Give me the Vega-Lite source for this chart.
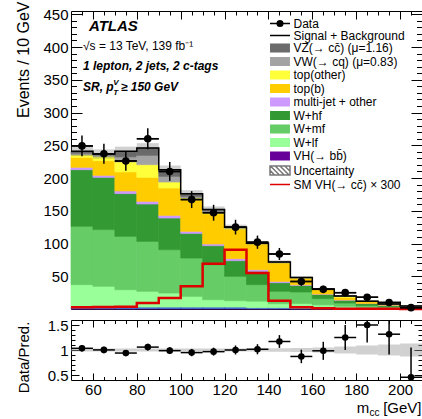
{
 "$schema": "https://vega.github.io/schema/vega-lite/v6.json",
 "padding": {"left": 14, "top": 0, "right": 0, "bottom": 0},
 "spacing": 2,
 "datasets": {
  "procs": [{"p":"vhbb","o":1},{"p":"z","o":2},{"p":"wlf","o":3},{"p":"wmf","o":4},{"p":"whf","o":5},{"p":"mj","o":6},{"p":"topb","o":7},{"p":"topo","o":8},{"p":"vw","o":9},{"p":"vz","o":10}],
  "bars": [
   {"lo":50,"hi":60,"vhbb":0.5,"z":2.0,"wlf":34.7,"wmf":89.1,"whf":86.4,"mj":3.6,"topb":15.3,"topo":4.0,"vw":2.4,"vz":2.7},
   {"lo":60,"hi":70,"vhbb":0.5,"z":2.0,"wlf":32.1,"wmf":86.6,"whf":79.8,"mj":3.1,"topb":22.3,"topo":6.6,"vw":2.1,"vz":1.5},
   {"lo":70,"hi":80,"vhbb":0.5,"z":2.0,"wlf":27.0,"wmf":81.4,"whf":65.3,"mj":4.1,"topb":29.0,"topo":15.3,"vw":7.6,"vz":8.5},
   {"lo":80,"hi":90,"vhbb":0.6,"z":2.4,"wlf":24.0,"wmf":76.3,"whf":57.0,"mj":4.1,"topb":36.6,"topo":19.4,"vw":14.2,"vz":11.2},
   {"lo":90,"hi":100,"vhbb":0.6,"z":2.4,"wlf":21.4,"wmf":66.2,"whf":48.3,"mj":4.1,"topb":41.7,"topo":9.2,"vw":8.6,"vz":10.2},
   {"lo":100,"hi":110,"vhbb":0.6,"z":2.4,"wlf":16.3,"wmf":58.6,"whf":37.6,"mj":3.1,"topb":48.4,"topo":2.5,"vw":2.5,"vz":4.1},
   {"lo":110,"hi":120,"vhbb":0.6,"z":2.4,"wlf":11.2,"wmf":53.5,"whf":29.0,"mj":2.6,"topb":46.1,"topo":2.5,"vw":2.0,"vz":2.1},
   {"lo":120,"hi":130,"vhbb":0.6,"z":2.4,"wlf":9.7,"wmf":37.2,"whf":23.9,"mj":3.1,"topb":45.1,"topo":1.5,"vw":0.8,"vz":0.7},
   {"lo":130,"hi":140,"vhbb":0.5,"z":1.5,"wlf":9.9,"wmf":25.3,"whf":20.3,"mj":2.6,"topb":39.1,"topo":1.0,"vw":0.2,"vz":0.1},
   {"lo":140,"hi":150,"vhbb":0.5,"z":1.5,"wlf":6.1,"wmf":18.9,"whf":13.2,"mj":2.0,"topb":28.0,"topo":1.2,"vw":0.2,"vz":0.2},
   {"lo":150,"hi":160,"vhbb":0.4,"z":1.1,"wlf":7.0,"wmf":17.5,"whf":10.0,"mj":1.0,"topb":10.0,"topo":0.7,"vw":0.3,"vz":0.2},
   {"lo":160,"hi":170,"vhbb":0.3,"z":1.0,"wlf":5.0,"wmf":9.5,"whf":6.5,"mj":0.5,"topb":7.0,"topo":0.5,"vw":0.1,"vz":0.1},
   {"lo":170,"hi":180,"vhbb":0.3,"z":0.8,"wlf":3.0,"wmf":5.0,"whf":4.4,"mj":0.4,"topb":4.0,"topo":1.8,"vw":0.1,"vz":0.2},
   {"lo":180,"hi":190,"vhbb":0.2,"z":0.6,"wlf":1.5,"wmf":3.0,"whf":3.0,"mj":0.3,"topb":2.7,"topo":0.5,"vw":0.1,"vz":0.1},
   {"lo":190,"hi":200,"vhbb":0.1,"z":0.4,"wlf":1.0,"wmf":2.0,"whf":2.2,"mj":0.2,"topb":1.4,"topo":0.2,"vw":0.05,"vz":0.05},
   {"lo":200,"hi":210,"vhbb":0.1,"z":0.3,"wlf":0.6,"wmf":1.0,"whf":1.4,"mj":0.1,"topb":0.7,"topo":0.1,"vw":0.05,"vz":0.05}
  ],
  "tot": [{"x":50,"v":240.7,"s":"sb"},{"x":60,"v":236.6,"s":"sb"},{"x":70,"v":240.7,"s":"sb"},{"x":80,"v":245.8,"s":"sb"},{"x":90,"v":212.7,"s":"sb"},{"x":100,"v":176.1,"s":"sb"},{"x":110,"v":152,"s":"sb"},{"x":120,"v":125,"s":"sb"},{"x":130,"v":100.5,"s":"sb"},{"x":140,"v":71.8,"s":"sb"},{"x":150,"v":48.2,"s":"sb"},{"x":160,"v":30.5,"s":"sb"},{"x":170,"v":20,"s":"sb"},{"x":180,"v":12,"s":"sb"},{"x":190,"v":7.6,"s":"sb"},{"x":200,"v":4.4,"s":"sb"},{"x":210,"v":4.4,"s":"sb"}],
  "sig": [{"x":50,"v":2.5,"s":"sig"},{"x":60,"v":3,"s":"sig"},{"x":70,"v":3.5,"s":"sig"},{"x":80,"v":9,"s":"sig"},{"x":90,"v":16.8,"s":"sig"},{"x":100,"v":34.6,"s":"sig"},{"x":110,"v":69,"s":"sig"},{"x":120,"v":90.6,"s":"sig"},{"x":130,"v":55,"s":"sig"},{"x":140,"v":12.7,"s":"sig"},{"x":150,"v":2.5,"s":"sig"},{"x":160,"v":1,"s":"sig"},{"x":170,"v":0.5,"s":"sig"},{"x":180,"v":0.3,"s":"sig"},{"x":190,"v":0.2,"s":"sig"},{"x":200,"v":0.1,"s":"sig"},{"x":210,"v":0.1,"s":"sig"}],
  "pts": [
   {"c":55,"lo":50,"hi":60,"n":249,"el":233.2,"eh":264.8,"s":"data"},
   {"c":65,"lo":60,"hi":70,"n":237,"el":221.6,"eh":252.4,"s":"data"},
   {"c":75,"lo":70,"hi":80,"n":226,"el":211,"eh":241,"s":"data"},
   {"c":85,"lo":80,"hi":90,"n":260,"el":243.9,"eh":276.1,"s":"data"},
   {"c":95,"lo":90,"hi":100,"n":210,"el":195.5,"eh":224.5,"s":"data"},
   {"c":105,"lo":100,"hi":110,"n":167,"el":154.1,"eh":179.9,"s":"data"},
   {"c":115,"lo":110,"hi":120,"n":147,"el":134.9,"eh":159.1,"s":"data"},
   {"c":125,"lo":120,"hi":130,"n":125,"el":113.8,"eh":136.2,"s":"data"},
   {"c":135,"lo":130,"hi":140,"n":102,"el":91.9,"eh":112.1,"s":"data"},
   {"c":145,"lo":140,"hi":150,"n":84,"el":74.8,"eh":93.2,"s":"data"},
   {"c":155,"lo":150,"hi":160,"n":42,"el":35.5,"eh":48.5,"s":"data"},
   {"c":165,"lo":160,"hi":170,"n":30,"el":24.5,"eh":35.5,"s":"data"},
   {"c":175,"lo":170,"hi":180,"n":25,"el":20,"eh":30,"s":"data"},
   {"c":185,"lo":180,"hi":190,"n":18,"el":13.8,"eh":22.3,"s":"data"},
   {"c":195,"lo":190,"hi":200,"n":10,"el":6.9,"eh":14.3,"s":"data"},
   {"c":205,"lo":200,"hi":210,"n":2,"el":0.7,"eh":4.6,"s":"data"}
  ],
  "unc": [{"lo":50,"hi":60,"a":233.5,"b":247.9},{"lo":60,"hi":70,"a":229.5,"b":243.7},{"lo":70,"hi":80,"a":233.5,"b":247.9},{"lo":80,"hi":90,"a":238.4,"b":253.2},{"lo":90,"hi":100,"a":206.3,"b":219.1},{"lo":100,"hi":110,"a":170.8,"b":181.4},{"lo":110,"hi":120,"a":147.4,"b":156.6},{"lo":120,"hi":130,"a":121.3,"b":128.8},{"lo":130,"hi":140,"a":97.5,"b":103.5},{"lo":140,"hi":150,"a":69.3,"b":74.3},{"lo":150,"hi":160,"a":46.3,"b":50.1},{"lo":160,"hi":170,"a":29,"b":32},{"lo":170,"hi":180,"a":18.6,"b":21.4},{"lo":180,"hi":190,"a":10.9,"b":13.1},{"lo":190,"hi":200,"a":6.8,"b":8.4},{"lo":200,"hi":210,"a":3.8,"b":5.0}],
  "ratio": [
   {"c":55,"lo":50,"hi":60,"r":1.034,"el":0.969,"eh":1.100},
   {"c":65,"lo":60,"hi":70,"r":1.002,"el":0.937,"eh":1.067},
   {"c":75,"lo":70,"hi":80,"r":0.939,"el":0.877,"eh":1.001},
   {"c":85,"lo":80,"hi":90,"r":1.058,"el":0.992,"eh":1.123},
   {"c":95,"lo":90,"hi":100,"r":0.987,"el":0.919,"eh":1.056},
   {"c":105,"lo":100,"hi":110,"r":0.948,"el":0.875,"eh":1.022},
   {"c":115,"lo":110,"hi":120,"r":0.967,"el":0.888,"eh":1.047},
   {"c":125,"lo":120,"hi":130,"r":1.0,"el":0.910,"eh":1.090},
   {"c":135,"lo":130,"hi":140,"r":1.015,"el":0.914,"eh":1.116},
   {"c":145,"lo":140,"hi":150,"r":1.170,"el":1.042,"eh":1.298},
   {"c":155,"lo":150,"hi":160,"r":0.871,"el":0.737,"eh":1.006},
   {"c":165,"lo":160,"hi":170,"r":0.984,"el":0.803,"eh":1.164},
   {"c":175,"lo":170,"hi":180,"r":1.25,"el":1.0,"eh":1.5},
   {"c":185,"lo":180,"hi":190,"r":1.5,"el":1.15,"eh":1.94},
   {"c":195,"lo":190,"hi":200,"r":1.316,"el":0.908,"eh":1.88},
   {"c":205,"lo":200,"hi":210,"r":0.455,"el":0.16,"eh":1.05}
  ],
  "runc": [{"lo":50,"hi":60,"a":0.97,"b":1.03},{"lo":60,"hi":70,"a":0.97,"b":1.03},{"lo":70,"hi":80,"a":0.97,"b":1.03},{"lo":80,"hi":90,"a":0.97,"b":1.03},{"lo":90,"hi":100,"a":0.97,"b":1.03},{"lo":100,"hi":110,"a":0.97,"b":1.03},{"lo":110,"hi":120,"a":0.97,"b":1.03},{"lo":120,"hi":130,"a":0.97,"b":1.03},{"lo":130,"hi":140,"a":0.97,"b":1.03},{"lo":140,"hi":150,"a":0.965,"b":1.035},{"lo":150,"hi":160,"a":0.96,"b":1.04},{"lo":160,"hi":170,"a":0.95,"b":1.05},{"lo":170,"hi":180,"a":0.93,"b":1.07},{"lo":180,"hi":190,"a":0.91,"b":1.09},{"lo":190,"hi":200,"a":0.89,"b":1.11},{"lo":200,"hi":210,"a":0.87,"b":1.13}]
 },
 "vconcat": [
  {
   "width": 351,
   "height": 298,
   "layer": [
    {
     "data": {"name": "bars"},
     "transform": [
      {"fold": ["vhbb","z","wlf","wmf","whf","mj","topb","topo","vw","vz"], "as": ["p","v"]},
      {"lookup": "p", "from": {"data": {"name": "procs"}, "key": "p", "fields": ["o"]}},
      {"stack": "v", "groupby": ["lo"], "sort": [{"field": "o", "order": "ascending"}], "as": ["y0", "y1"]}
     ],
     "mark": {"type": "rect", "strokeWidth": 0.7},
     "encoding": {
      "x": {"field": "lo", "type": "quantitative", "scale": {"domain": [50, 210], "nice": false, "zero": false},
            "axis": {"orient": "bottom", "values": [55,60,65,70,75,80,85,90,95,100,105,110,115,120,125,130,135,140,145,150,155,160,165,170,175,180,185,190,195,200,205], "labels": false, "title": null,
                     "tickSize": {"condition": {"test": "datum.value % 20 === 0", "value": -8}, "value": -4}}},
      "x2": {"field": "hi"},
      "y": {"field": "y0", "type": "quantitative", "scale": {"domain": [0, 455], "nice": false, "zero": false},
            "axis": {"orient": "left", "values": [10,20,30,40,50,60,70,80,90,100,110,120,130,140,150,160,170,180,190,200,210,220,230,240,250,260,270,280,290,300,310,320,330,340,350,360,370,380,390,400,410,420,430,440,450],
                     "labelExpr": "datum.value % 50 === 0 ? datum.label : ''", "labelPadding": 14,
                     "tickSize": {"condition": {"test": "datum.value % 50 === 0", "value": -11}, "value": -5.5},
                     "title": "Events / 10 GeV", "titleX": -48, "titleY": -10, "titleAngle": 270, "titleAlign": "right", "titleBaseline": "middle"}},
      "y2": {"field": "y1"},
      "fill": {"field": "p", "type": "nominal",
               "scale": {"domain": ["data","sb","vz","vw","topo","topb","mj","whf","wmf","wlf","vhbb","unc","sig","z"],
                         "range": ["black","transparent","#6b6b6b","#a3a3a3","#ffff3a","#ffcc00","#cc99ff","#339933","#66cc66","#99ff99","#660099","transparent","transparent","#3f6fd0"]},
               "legend": {"title": null, "values": ["data","sb","vz","vw","topo","topb","mj","whf","wmf","wlf","vhbb","unc","sig"],
                          "labelExpr": "['Data','Signal + Background','VZ(→ cc̄) (μ=1.16)','VW(→ cq) (μ=0.83)','top(other)','top(b)','multi-jet + other','W+hf','W+mf','W+lf','VH(→ bb̄)','Uncertainty','SM VH(→ cc̄) × 300'][indexof(['data','sb','vz','vw','topo','topb','mj','whf','wmf','wlf','vhbb','unc','sig'], datum.value)]"}},
      "stroke": {"field": "p", "type": "nominal",
                 "scale": {"domain": ["data","sb","vz","vw","topo","topb","mj","whf","wmf","wlf","vhbb","unc","sig","z"],
                           "range": ["black","black","#6b6b6b","#a3a3a3","#ffff3a","#ffcc00","#cc99ff","#339933","#66cc66","#99ff99","#660099","#777777","#dd0000","#3f6fd0"]},
                 "legend": {"title": null, "values": ["data","sb","vz","vw","topo","topb","mj","whf","wmf","wlf","vhbb","unc","sig"],
                            "labelExpr": "['Data','Signal + Background','VZ(→ cc̄) (μ=1.16)','VW(→ cq) (μ=0.83)','top(other)','top(b)','multi-jet + other','W+hf','W+mf','W+lf','VH(→ bb̄)','Uncertainty','SM VH(→ cc̄) × 300'][indexof(['data','sb','vz','vw','topo','topb','mj','whf','wmf','wlf','vhbb','unc','sig'], datum.value)]"}}
     }
    },
    {
     "data": {"name": "unc"},
     "mark": {"type": "rect", "fill": "#666666", "opacity": 0.3},
     "encoding": {
      "x": {"field": "lo", "type": "quantitative", "scale": {"domain": [50, 210], "nice": false, "zero": false},
            "axis": {"orient": "top", "values": [55,60,65,70,75,80,85,90,95,100,105,110,115,120,125,130,135,140,145,150,155,160,165,170,175,180,185,190,195,200,205], "labels": false, "title": null,
                     "tickSize": {"condition": {"test": "datum.value % 20 === 0", "value": -8}, "value": -4}}},
      "x2": {"field": "hi"},
      "y": {"field": "a", "type": "quantitative", "scale": {"domain": [0, 455], "nice": false, "zero": false},
            "axis": {"orient": "right", "values": [10,20,30,40,50,60,70,80,90,100,110,120,130,140,150,160,170,180,190,200,210,220,230,240,250,260,270,280,290,300,310,320,330,340,350,360,370,380,390,400,410,420,430,440,450], "labels": false, "title": null,
                     "tickSize": {"condition": {"test": "datum.value % 50 === 0", "value": -11}, "value": -5.5}}},
      "y2": {"field": "b"}
     }
    },
    {
     "data": {"name": "tot"},
     "mark": {"type": "line", "interpolate": "step-after", "strokeWidth": 1.5},
     "encoding": {
      "x": {"field": "x", "type": "quantitative", "axis": null},
      "y": {"field": "v", "type": "quantitative", "axis": null},
      "stroke": {"field": "s", "type": "nominal",
                 "scale": {"domain": ["data","sb","vz","vw","topo","topb","mj","whf","wmf","wlf","vhbb","unc","sig","z"],
                           "range": ["black","black","#6b6b6b","#a3a3a3","#ffff3a","#ffcc00","#cc99ff","#339933","#66cc66","#99ff99","#660099","#777777","#dd0000","#3f6fd0"]},
                 "legend": {"title": null, "values": ["data","sb","vz","vw","topo","topb","mj","whf","wmf","wlf","vhbb","unc","sig"],
                            "labelExpr": "['Data','Signal + Background','VZ(→ cc̄) (μ=1.16)','VW(→ cq) (μ=0.83)','top(other)','top(b)','multi-jet + other','W+hf','W+mf','W+lf','VH(→ bb̄)','Uncertainty','SM VH(→ cc̄) × 300'][indexof(['data','sb','vz','vw','topo','topb','mj','whf','wmf','wlf','vhbb','unc','sig'], datum.value)]"}}
     }
    },
    {
     "data": {"name": "sig"},
     "mark": {"type": "line", "interpolate": "step-after", "strokeWidth": 2.5},
     "encoding": {
      "x": {"field": "x", "type": "quantitative", "axis": null},
      "y": {"field": "v", "type": "quantitative", "axis": null},
      "stroke": {"field": "s", "type": "nominal",
                 "scale": {"domain": ["data","sb","vz","vw","topo","topb","mj","whf","wmf","wlf","vhbb","unc","sig","z"],
                           "range": ["black","black","#6b6b6b","#a3a3a3","#ffff3a","#ffcc00","#cc99ff","#339933","#66cc66","#99ff99","#660099","#777777","#dd0000","#3f6fd0"]},
                 "legend": {"title": null, "values": ["data","sb","vz","vw","topo","topb","mj","whf","wmf","wlf","vhbb","unc","sig"],
                            "labelExpr": "['Data','Signal + Background','VZ(→ cc̄) (μ=1.16)','VW(→ cq) (μ=0.83)','top(other)','top(b)','multi-jet + other','W+hf','W+mf','W+lf','VH(→ bb̄)','Uncertainty','SM VH(→ cc̄) × 300'][indexof(['data','sb','vz','vw','topo','topb','mj','whf','wmf','wlf','vhbb','unc','sig'], datum.value)]"}}
     }
    },
    {
     "data": {"name": "pts"},
     "mark": {"type": "rule", "color": "black", "strokeWidth": 1.5},
     "encoding": {
      "x": {"field": "c", "type": "quantitative", "axis": null},
      "y": {"field": "el", "type": "quantitative", "axis": null},
      "y2": {"field": "eh"}
     }
    },
    {
     "data": {"name": "pts"},
     "mark": {"type": "rule", "color": "black", "strokeWidth": 1.5},
     "encoding": {
      "x": {"field": "lo", "type": "quantitative", "axis": null},
      "x2": {"field": "hi"},
      "y": {"field": "n", "type": "quantitative", "axis": null}
     }
    },
    {
     "data": {"name": "pts"},
     "mark": {"type": "point", "filled": true, "opacity": 1, "size": 77, "strokeWidth": 1.5},
     "encoding": {
      "x": {"field": "c", "type": "quantitative", "axis": null},
      "y": {"field": "n", "type": "quantitative", "axis": null},
      "fill": {"field": "s", "type": "nominal",
               "scale": {"domain": ["data","sb","vz","vw","topo","topb","mj","whf","wmf","wlf","vhbb","unc","sig","z"],
                         "range": ["black","transparent","#6b6b6b","#a3a3a3","#ffff3a","#ffcc00","#cc99ff","#339933","#66cc66","#99ff99","#660099","transparent","transparent","#3f6fd0"]},
               "legend": {"title": null, "values": ["data","sb","vz","vw","topo","topb","mj","whf","wmf","wlf","vhbb","unc","sig"],
                          "labelExpr": "['Data','Signal + Background','VZ(→ cc̄) (μ=1.16)','VW(→ cq) (μ=0.83)','top(other)','top(b)','multi-jet + other','W+hf','W+mf','W+lf','VH(→ bb̄)','Uncertainty','SM VH(→ cc̄) × 300'][indexof(['data','sb','vz','vw','topo','topb','mj','whf','wmf','wlf','vhbb','unc','sig'], datum.value)]"}},
      "stroke": {"field": "s", "type": "nominal",
                 "scale": {"domain": ["data","sb","vz","vw","topo","topb","mj","whf","wmf","wlf","vhbb","unc","sig","z"],
                           "range": ["black","black","#6b6b6b","#a3a3a3","#ffff3a","#ffcc00","#cc99ff","#339933","#66cc66","#99ff99","#660099","#777777","#dd0000","#3f6fd0"]},
                 "legend": {"title": null, "values": ["data","sb","vz","vw","topo","topb","mj","whf","wmf","wlf","vhbb","unc","sig"],
                            "labelExpr": "['Data','Signal + Background','VZ(→ cc̄) (μ=1.16)','VW(→ cq) (μ=0.83)','top(other)','top(b)','multi-jet + other','W+hf','W+mf','W+lf','VH(→ bb̄)','Uncertainty','SM VH(→ cc̄) × 300'][indexof(['data','sb','vz','vw','topo','topb','mj','whf','wmf','wlf','vhbb','unc','sig'], datum.value)]"}},
      "shape": {"field": "s", "type": "nominal",
                "scale": {"domain": ["data","sb","vz","vw","topo","topb","mj","whf","wmf","wlf","vhbb","unc","sig","z"],
                          "range": ["M-2.5,0H2.5M-0.7,0A0.7,0.7,0,1,1,0.7,0A0.7,0.7,0,1,1,-0.7,0Z",
                                    "M-2.5,0H2.5",
                                    "M-2.3,-0.95H2.3V0.95H-2.3Z","M-2.3,-0.95H2.3V0.95H-2.3Z","M-2.3,-0.95H2.3V0.95H-2.3Z","M-2.3,-0.95H2.3V0.95H-2.3Z","M-2.3,-0.95H2.3V0.95H-2.3Z","M-2.3,-0.95H2.3V0.95H-2.3Z","M-2.3,-0.95H2.3V0.95H-2.3Z","M-2.3,-0.95H2.3V0.95H-2.3Z","M-2.3,-0.95H2.3V0.95H-2.3Z",
                                    "M-2.5,-1.125H2.5V1.125H-2.5ZM-2.5,-0.025L-1.35,1.125M-2.4,-1.125L-0.15,1.125M-1.2,-1.125L1.05,1.125M0,-1.125L2.25,1.125M1.2,-1.125L2.5,0.175",
                                    "M-2.5,0H2.5",
                                    "M-2.3,-0.95H2.3V0.95H-2.3Z"]},
                "legend": {"title": null, "values": ["data","sb","vz","vw","topo","topb","mj","whf","wmf","wlf","vhbb","unc","sig"],
                           "labelExpr": "['Data','Signal + Background','VZ(→ cc̄) (μ=1.16)','VW(→ cq) (μ=0.83)','top(other)','top(b)','multi-jet + other','W+hf','W+mf','W+lf','VH(→ bb̄)','Uncertainty','SM VH(→ cc̄) × 300'][indexof(['data','sb','vz','vw','topo','topb','mj','whf','wmf','wlf','vhbb','unc','sig'], datum.value)]"}}
     }
    },
    {
     "data": {"values": [{"t": "ATLAS"}]},
     "mark": {"type": "text", "align": "left", "baseline": "alphabetic", "fontSize": 15, "fontStyle": "italic", "fontWeight": "bold", "color": "black"},
     "encoding": {"x": {"datum": 58.2, "type": "quantitative", "axis": null}, "y": {"datum": 424.5, "type": "quantitative", "axis": null}, "text": {"field": "t"}}
    },
    {
     "data": {"values": [{"t": "√s = 13 TeV, 139 fb⁻¹"}]},
     "mark": {"type": "text", "align": "left", "baseline": "alphabetic", "fontSize": 12, "color": "black"},
     "encoding": {"x": {"datum": 55.45, "type": "quantitative", "axis": null}, "y": {"datum": 395.4, "type": "quantitative", "axis": null}, "text": {"field": "t"}}
    },
    {
     "data": {"values": [{"t": "1 lepton, 2 jets, 2 c-tags"}]},
     "mark": {"type": "text", "align": "left", "baseline": "alphabetic", "fontSize": 12, "fontStyle": "italic", "fontWeight": "bold", "color": "black"},
     "encoding": {"x": {"datum": 55.45, "type": "quantitative", "axis": null}, "y": {"datum": 364.9, "type": "quantitative", "axis": null}, "text": {"field": "t"}}
    },
    {
     "data": {"values": [{"t": "SR, p"}]},
     "mark": {"type": "text", "align": "left", "baseline": "alphabetic", "fontSize": 12, "fontStyle": "italic", "fontWeight": "bold", "color": "black"},
     "encoding": {"x": {"datum": 55.45, "type": "quantitative", "axis": null}, "y": {"datum": 332.8, "type": "quantitative", "axis": null}, "text": {"field": "t"}}
    },
    {
     "data": {"values": [{"t": "V"}]},
     "mark": {"type": "text", "align": "left", "baseline": "alphabetic", "fontSize": 8, "fontStyle": "italic", "fontWeight": "bold", "color": "black"},
     "encoding": {"x": {"datum": 69.3, "type": "quantitative", "axis": null}, "y": {"datum": 342, "type": "quantitative", "axis": null}, "text": {"field": "t"}}
    },
    {
     "data": {"values": [{"t": "T"}]},
     "mark": {"type": "text", "align": "left", "baseline": "alphabetic", "fontSize": 8, "fontStyle": "italic", "fontWeight": "bold", "color": "black"},
     "encoding": {"x": {"datum": 69.3, "type": "quantitative", "axis": null}, "y": {"datum": 326.7, "type": "quantitative", "axis": null}, "text": {"field": "t"}}
    },
    {
     "data": {"values": [{"t": "≥ 150 GeV"}]},
     "mark": {"type": "text", "align": "left", "baseline": "alphabetic", "fontSize": 12, "fontStyle": "italic", "fontWeight": "bold", "color": "black"},
     "encoding": {"x": {"datum": 72.7, "type": "quantitative", "axis": null}, "y": {"datum": 332.8, "type": "quantitative", "axis": null}, "text": {"field": "t"}}
    }
   ],
   "resolve": {"axis": {"x": "independent", "y": "independent"}}
  },
  {
   "width": 351,
   "height": 60,
   "layer": [
    {
     "data": {"name": "runc"},
     "mark": {"type": "rect", "fill": "#999999", "opacity": 0.45},
     "encoding": {
      "x": {"field": "lo", "type": "quantitative", "scale": {"domain": [50, 210], "nice": false, "zero": false},
            "axis": {"orient": "bottom", "values": [55,60,65,70,75,80,85,90,95,100,105,110,115,120,125,130,135,140,145,150,155,160,165,170,175,180,185,190,195,200,205],
                     "labelExpr": "datum.value % 20 === 0 ? datum.label : ''", "labelPadding": 9, "title": null,
                     "tickSize": {"condition": {"test": "datum.value % 20 === 0", "value": -7}, "value": -3.5}}},
      "x2": {"field": "hi"},
      "y": {"field": "a", "type": "quantitative", "scale": {"domain": [0.4, 1.6], "nice": false, "zero": false},
            "axis": {"orient": "left", "values": [0.5,0.6,0.7,0.8,0.9,1,1.1,1.2,1.3,1.4,1.5],
                     "labelExpr": "datum.value === 0.5 ? '0.5' : datum.value === 1 ? '1' : datum.value === 1.5 ? '1.5' : ''", "labelPadding": 11,
                     "tickSize": {"condition": {"test": "datum.value === 0.5 || datum.value === 1 || datum.value === 1.5", "value": -8}, "value": -4},
                     "title": "Data/Pred.", "titleFontSize": 15, "titleX": -48, "titleY": 37, "titleAngle": 270, "titleAlign": "center", "titleBaseline": "middle"}},
      "y2": {"field": "b"}
     }
    },
    {
     "data": {"name": "ratio"},
     "mark": {"type": "rule", "color": "black", "strokeWidth": 1.5, "clip": true},
     "encoding": {
      "x": {"field": "c", "type": "quantitative", "scale": {"domain": [50, 210], "nice": false, "zero": false},
            "axis": {"orient": "top", "values": [55,60,65,70,75,80,85,90,95,100,105,110,115,120,125,130,135,140,145,150,155,160,165,170,175,180,185,190,195,200,205], "labels": false, "title": null,
                     "tickSize": {"condition": {"test": "datum.value % 20 === 0", "value": -7}, "value": -3.5}}},
      "y": {"field": "el", "type": "quantitative", "scale": {"domain": [0.4, 1.6], "nice": false, "zero": false},
            "axis": {"orient": "right", "values": [0.5,0.6,0.7,0.8,0.9,1,1.1,1.2,1.3,1.4,1.5], "labels": false, "title": null,
                     "tickSize": {"condition": {"test": "datum.value === 0.5 || datum.value === 1 || datum.value === 1.5", "value": -8}, "value": -4}}},
      "y2": {"field": "eh"}
     }
    },
    {
     "data": {"name": "ratio"},
     "mark": {"type": "rule", "color": "black", "strokeWidth": 1.5, "clip": true},
     "encoding": {
      "x": {"field": "lo", "type": "quantitative", "axis": null},
      "x2": {"field": "hi"},
      "y": {"field": "r", "type": "quantitative", "axis": null}
     }
    },
    {
     "data": {"name": "ratio"},
     "mark": {"type": "point", "shape": "circle", "filled": true, "opacity": 1, "size": 44, "color": "black", "clip": true},
     "encoding": {
      "x": {"field": "c", "type": "quantitative", "axis": null},
      "y": {"field": "r", "type": "quantitative", "axis": null}
     }
    },
    {
     "data": {"values": [{"t": "m"}]},
     "mark": {"type": "text", "align": "left", "baseline": "alphabetic", "fontSize": 15, "color": "black"},
     "encoding": {"x": {"datum": 180.3, "type": "quantitative", "axis": null}, "y": {"datum": -0.26, "type": "quantitative", "axis": null}, "text": {"field": "t"}}
    },
    {
     "data": {"values": [{"t": "cc"}]},
     "mark": {"type": "text", "align": "left", "baseline": "alphabetic", "fontSize": 10, "color": "black"},
     "encoding": {"x": {"datum": 186.1, "type": "quantitative", "axis": null}, "y": {"datum": -0.32, "type": "quantitative", "axis": null}, "text": {"field": "t"}}
    },
    {
     "data": {"values": [{"t": "[GeV]"}]},
     "mark": {"type": "text", "align": "left", "baseline": "alphabetic", "fontSize": 15, "color": "black"},
     "encoding": {"x": {"datum": 192.3, "type": "quantitative", "axis": null}, "y": {"datum": -0.26, "type": "quantitative", "axis": null}, "text": {"field": "t"}}
    }
   ],
   "resolve": {"axis": {"x": "independent", "y": "independent"}}
  }
 ],
 "config": {
  "font": "Liberation Sans",
  "view": {"stroke": "black", "strokeWidth": 1},
  "axis": {"domain": false, "grid": false, "labelFont": "Liberation Sans", "labelFontSize": 15, "labelColor": "black", "tickColor": "black", "tickWidth": 1,
           "titleFont": "Liberation Sans", "titleFontSize": 16, "titleFontWeight": "normal", "titleColor": "black", "labelOverlap": false, "labelFlush": false},
  "legend": {"orient": "none", "legendX": 203, "legendY": 6.5, "padding": 0, "labelFont": "Liberation Sans", "labelFontSize": 12, "labelColor": "black",
             "symbolSize": 64, "symbolStrokeWidth": 1.5, "symbolFillColor": "transparent", "labelOffset": 7.5, "rowPadding": -0.5, "labelLimit": 300},
  "text": {"font": "Liberation Sans"}
 }
}
